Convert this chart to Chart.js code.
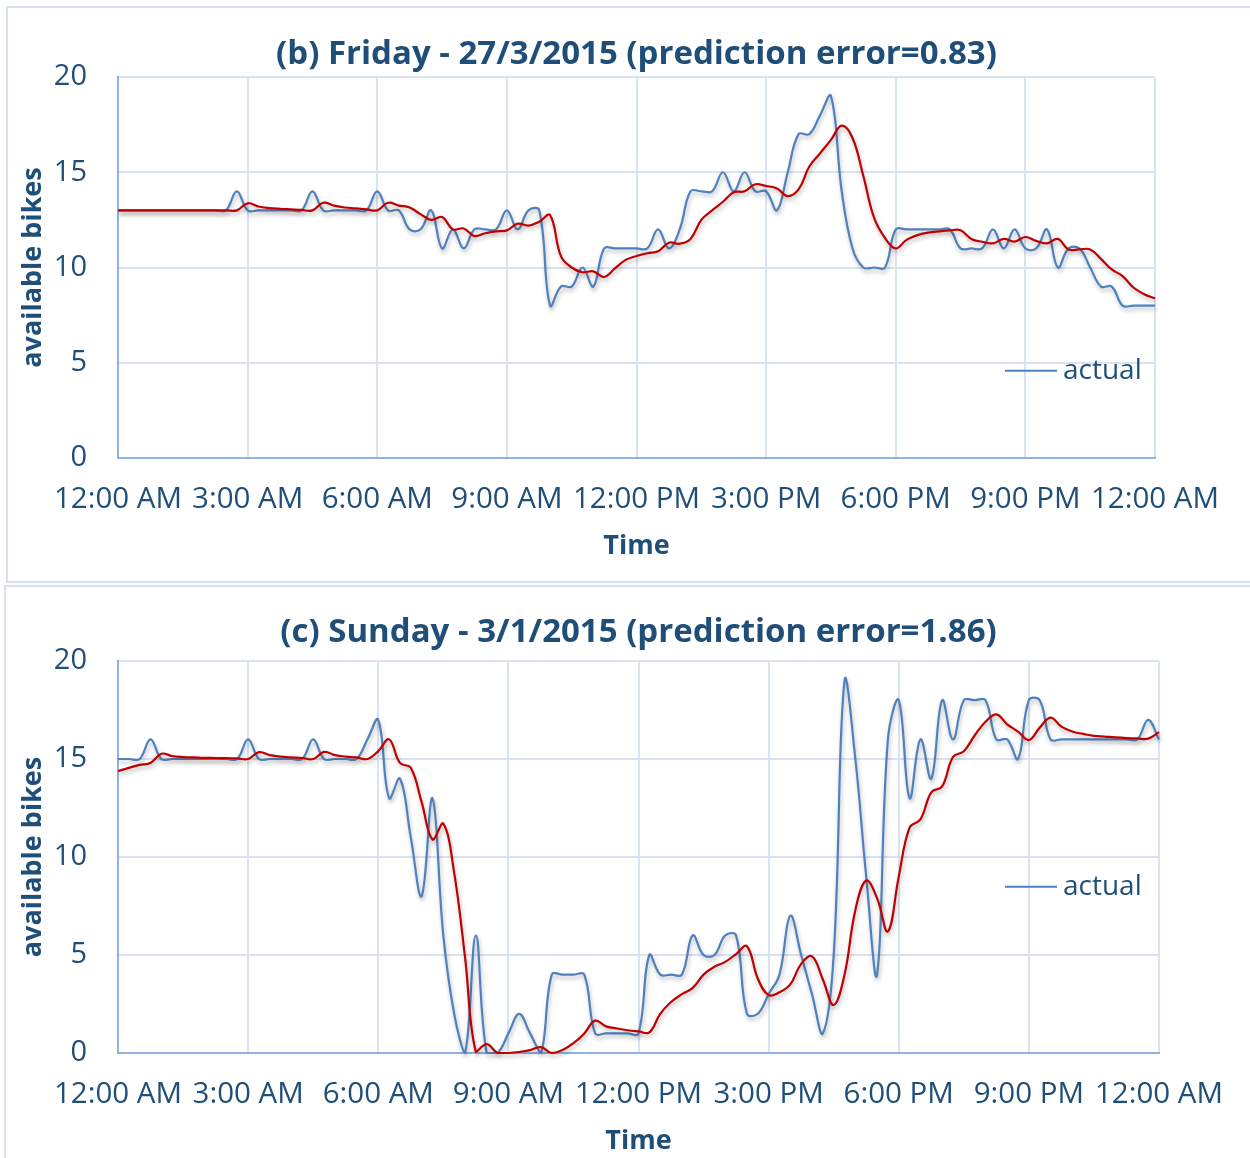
<!DOCTYPE html>
<html>
<head>
<meta charset="utf-8">
<title>Available bikes</title>
<script src="https://cdn.jsdelivr.net/npm/chart.js@4.4.1/dist/chart.umd.min.js"></script>
<style>
    html, body { margin: 0; padding: 0; background: #ffffff; }
    body { position: relative; width: 1250px; height: 1158px; overflow: hidden; }
    .panel { position: absolute; left: 0; }
    #panelFriday { top: 0; }
    #panelSunday { top: 586px; }
    .frame { position: absolute; box-sizing: border-box; border: 2px solid #d6e0ef; pointer-events: none; }
    #frameFriday { left: 6px; top: 6px; width: 1260px; height: 577px; }
    #frameSunday { left: 4px; top: 585px; width: 1260px; height: 600px; }
</style>
</head>
<body>
<canvas id="panelFriday" class="panel" width="1250" height="582"></canvas>
<canvas id="panelSunday" class="panel" width="1250" height="572"></canvas>
<div id="frameFriday" class="frame"></div>
<div id="frameSunday" class="frame"></div>
<script>
// sample times (hours after midnight), one reading every 15 minutes
const hours = [
    0, 0.25, 0.5, 0.75, 1, 1.25, 1.5, 1.75, 2, 2.25, 2.5, 2.75,
    3, 3.25, 3.5, 3.75, 4, 4.25, 4.5, 4.75, 5, 5.25, 5.5, 5.75,
    6, 6.25, 6.5, 6.75, 7, 7.25, 7.5, 7.75, 8, 8.25, 8.5, 8.75,
    9, 9.25, 9.5, 9.75, 10, 10.25, 10.5, 10.75, 11, 11.25, 11.5, 11.75,
    12, 12.25, 12.5, 12.75, 13, 13.25, 13.5, 13.75, 14, 14.25, 14.5, 14.75,
    15, 15.25, 15.5, 15.75, 16, 16.25, 16.5, 16.75, 17, 17.25, 17.5, 17.75,
    18, 18.25, 18.5, 18.75, 19, 19.25, 19.5, 19.75, 20, 20.25, 20.5, 20.75,
    21, 21.25, 21.5, 21.75, 22, 22.25, 22.5, 22.75, 23, 23.25, 23.5, 23.75, 24
];

const timeTickLabels = ['12:00 AM', '3:00 AM', '6:00 AM', '9:00 AM', '12:00 PM', '3:00 PM', '6:00 PM', '9:00 PM', '12:00 AM'];

// (b) Friday 27/3/2015
const fridayActual = [
    13, 13, 13, 13, 13, 13, 13, 13, 13, 13, 13, 14,
    13, 13, 13, 13, 13, 13, 14, 13, 13, 13, 13, 13,
    14, 13, 13, 12, 12, 13, 11, 12, 11, 12, 12, 12,
    13, 12, 13, 13, 8, 9, 9, 10, 9, 11, 11, 11,
    11, 11, 12, 11, 12, 14, 14, 14, 15, 14, 15, 14,
    14, 13, 15, 17, 17, 18, 19, 14, 11, 10, 10, 10,
    12, 12, 12, 12, 12, 12, 11, 11, 11, 12, 11, 12,
    11, 11, 12, 10, 11, 11, 10, 9, 9, 8, 8, 8, 8
];
const fridayPredicted = [
    13, 13, 13, 13, 13, 13, 13, 13, 13, 13, 13, 13,
    13.37, 13.2, 13.12, 13.08, 13.05, 13.02, 13, 13.4, 13.25, 13.15, 13.1, 13.05,
    13, 13.4, 13.25, 13.15, 12.8, 12.5, 12.65, 12, 12.05, 11.65, 11.8, 11.9,
    11.95, 12.3, 12.2, 12.4, 12.75, 10.6, 10, 9.75, 9.8, 9.5, 9.95, 10.4,
    10.6, 10.75, 10.85, 11.3, 11.25, 11.5, 12.5, 13, 13.45, 13.95, 14, 14.37,
    14.28, 14.15, 13.75, 14.1, 15.3, 16, 16.7, 17.45, 16.8, 14.8, 12.6, 11.55,
    11, 11.45, 11.7, 11.83, 11.9, 11.95, 11.95, 11.5, 11.35, 11.27, 11.5, 11.36,
    11.6, 11.4, 11.27, 11.5, 10.95, 10.95, 10.95, 10.45, 9.9, 9.55, 8.95, 8.6, 8.38
];

// (c) Sunday 3/1/2015
const sundayActual = [
    15, 15, 15, 16, 15, 15, 15, 15, 15, 15, 15, 15,
    16, 15, 15, 15, 15, 15, 16, 15, 15, 15, 15, 16,
    17, 13, 14, 11, 8, 13, 6, 2, 0, 6, 0, 0,
    1, 2, 1, 0, 4, 4, 4, 4, 1, 1, 1, 1,
    1, 5, 4, 4, 4, 6, 5, 5, 6, 6, 2, 2,
    3, 4, 7, 5, 3, 1, 5, 19, 15, 9, 4, 16,
    18, 13, 16, 14, 18, 16, 18, 18, 18, 16, 16, 15,
    18, 18, 16, 16, 16, 16, 16, 16, 16, 16, 16, 17, 16
];
const sundayPredicted = [
    14.38, 14.55, 14.7, 14.8, 15.27, 15.15, 15.1, 15.08, 15.06, 15.05, 15.04, 15.03,
    15, 15.35, 15.2, 15.12, 15.08, 15.05, 15, 15.36, 15.2, 15.12, 15.08, 15,
    15.4, 16, 14.8, 14.55, 12.8, 10.9, 11.7, 9.2, 4.9, 0.05, 0.45, 0,
    0, 0.05, 0.15, 0.3, 0, 0.15, 0.5, 1, 1.65, 1.36, 1.25, 1.16,
    1.1, 1.05, 2, 2.6, 3, 3.32, 4, 4.4, 4.65, 5.05, 5.45, 3.8,
    2.95, 3.1, 3.5, 4.55, 4.93, 3.75, 2.45, 4, 7.3, 8.8, 7.9, 6.2,
    9, 11.5, 11.92, 13.3, 13.6, 15.1, 15.4, 16.2, 16.9, 17.28, 16.77, 16.4,
    15.97, 16.6, 17.11, 16.65, 16.4, 16.28, 16.18, 16.14, 16.1, 16.07, 16.05, 16.04, 16.37
];

const FONT = "'Open Sans', 'Noto Sans', sans-serif";
const TEXT = '#1f4e79';
const BLUE = '#4f81bd';
const RED = '#c00000';
const GRID = '#d9e3f2';
const AXIS = '#8eb4e3';

const toPoints = values => hours.map((h, i) => ({ x: h, y: values[i] }));

// soft drop shadow under the lines, like the office chart style
const lineShadow = {
    id: 'lineShadow',
    beforeDatasetDraw(chart) {
        const ctx = chart.ctx;
        ctx.save();
        ctx.shadowColor = 'rgba(0, 0, 0, 0.28)';
        ctx.shadowBlur = 4;
        ctx.shadowOffsetX = 1;
        ctx.shadowOffsetY = 3;
    },
    afterDatasetDraw(chart) {
        chart.ctx.restore();
    },
};

// only the "actual" series has a legend entry, sitting inside the plot
const actualLegend = {
    id: 'actualLegend',
    afterDatasetsDraw(chart, args, opts) {
        const ds = chart.data.datasets[0];
        const { ctx, chartArea } = chart;
        const y = chartArea.top + opts.offsetY;
        const x0 = chartArea.right - opts.offsetX;
        ctx.save();
        ctx.strokeStyle = ds.borderColor;
        ctx.lineWidth = 2;
        ctx.beginPath();
        ctx.moveTo(x0, y);
        ctx.lineTo(x0 + 52, y);
        ctx.stroke();
        ctx.fillStyle = TEXT;
        ctx.font = '28px ' + FONT;
        ctx.textBaseline = 'middle';
        ctx.fillText(ds.label, x0 + 58, y);
        ctx.restore();
    },
};

function buildChart(canvasId, cfg) {
    return new Chart(document.getElementById(canvasId), {
        type: 'line',
        data: {
            datasets: [
                {
                    label: 'actual',
                    data: toPoints(cfg.actual),
                    borderColor: BLUE,
                    order: 1,
                },
                {
                    label: 'predicted',
                    data: toPoints(cfg.predicted),
                    borderColor: RED,
                    order: 0,
                },
            ],
        },
        options: {
            responsive: false,
            animation: false,
            layout: {
                padding: { left: 0, right: cfg.padRight, top: 0, bottom: cfg.padBottom },
            },
            elements: {
                point: { radius: 0 },
                line: { borderWidth: 2.2, tension: 0.4, fill: false },
            },
            datasets: { line: { clip: false } },
            plugins: {
                legend: { display: false },
                tooltip: { enabled: false },
                title: {
                    display: true,
                    fullSize: false,
                    text: cfg.title,
                    color: TEXT,
                    font: { family: FONT, size: 33, weight: 'bold' },
                    padding: { top: cfg.titleTop, bottom: cfg.titleBottom },
                },
                actualLegend: { offsetX: cfg.legendX, offsetY: cfg.legendY },
            },
            scales: {
                x: {
                    type: 'linear',
                    min: 0,
                    max: 24,
                    afterFit: scale => { scale.height = 104.2; },
                    ticks: {
                        stepSize: 3,
                        autoSkip: false,
                        maxRotation: 0,
                        padding: 24,
                        color: TEXT,
                        font: { family: FONT, size: 29.5 },
                        callback: value => timeTickLabels[value / 3],
                    },
                    grid: { color: GRID, lineWidth: 2, drawTicks: false },
                    border: { color: AXIS, width: 2 },
                    title: {
                        display: true,
                        text: 'Time',
                        color: TEXT,
                        font: { family: FONT, size: 27, weight: 'bold' },
                        padding: 0,
                    },
                },
                y: {
                    min: 0,
                    max: 20,
                    afterFit: scale => { scale.width = 118; },
                    ticks: {
                        stepSize: 5,
                        padding: 31,
                        color: TEXT,
                        font: { family: FONT, size: 29 },
                    },
                    grid: { color: GRID, lineWidth: 2, drawTicks: false },
                    border: { color: AXIS, width: 2 },
                    title: {
                        display: true,
                        text: 'available bikes',
                        color: TEXT,
                        font: { family: FONT, size: 27, weight: 'bold' },
                        padding: { top: 17, bottom: 0 },
                    },
                },
            },
        },
        plugins: [lineShadow, actualLegend],
    });
}

buildChart('panelFriday', {
    title: '(b) Friday - 27/3/2015 (prediction error=0.83)',
    actual: fridayActual,
    predicted: fridayPredicted,
    padRight: 95,
    padBottom: 19.8,
    titleTop: 35.2,
    titleBottom: 2.2,
    legendX: 150,
    legendY: 293.7,
});

buildChart('panelSunday', {
    title: '(c) Sunday - 3/1/2015 (prediction error=1.86)',
    actual: sundayActual,
    predicted: sundayPredicted,
    padRight: 91,
    padBottom: 0.8,
    titleTop: 27.2,
    titleBottom: 8.2,
    legendX: 154,
    legendY: 225.7,
});
</script>
</body>
</html>
